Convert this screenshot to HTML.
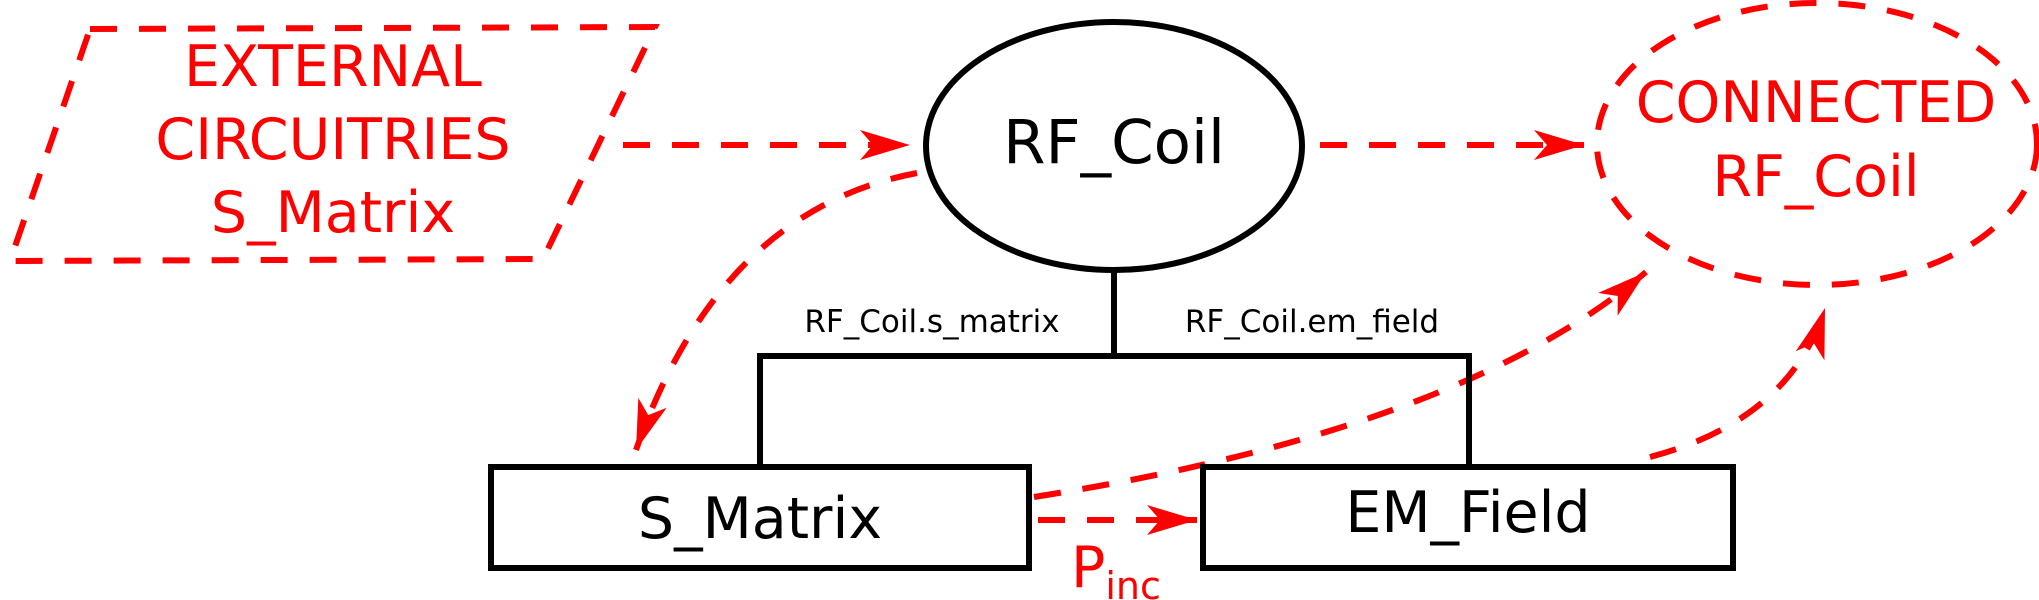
<!DOCTYPE html>
<html><head><style>html,body{margin:0;padding:0;background:#fff;}svg{display:block}</style></head>
<body>
<svg width="2039" height="600" viewBox="0 0 2039 600" xmlns="http://www.w3.org/2000/svg" font-family="'DejaVu Sans','Liberation Sans',sans-serif">
<defs>
<marker id="a" markerUnits="userSpaceOnUse" markerWidth="60" markerHeight="40" refX="50" refY="15" orient="auto">
<path d="M0,0 L50,15 L0,30 L13,15 Z" fill="#ff0000"/>
</marker>
</defs>
<g fill="none" stroke="#ff0000" stroke-width="6" stroke-dasharray="27,22">
<path d="M90,29 L655,27 L543,259 L10,261 Z"/>
<ellipse cx="1817" cy="144" rx="220" ry="141"/>
<path d="M623,145 L910,145" marker-end="url(#a)"/>
<path d="M1320,145 L1584,145" marker-end="url(#a)"/>
<path d="M917,173 Q720,210 636,450" marker-end="url(#a)"/>
<path d="M1034,497 Q1460,430 1646,272" marker-end="url(#a)"/>
<path d="M1650,457 Q1790,420 1825,308" marker-end="url(#a)"/>
<path d="M1038,520 L1197,520" marker-end="url(#a)"/>
</g>
<g fill="none" stroke="#000" stroke-width="6">
<ellipse cx="1114" cy="146" rx="188" ry="124"/>
<path d="M1114,270 L1114,356 M760,356 L1470,356 M760,353 L760,467 M1469,353 L1469,467"/>
<rect x="491" y="467" width="538" height="101"/>
<rect x="1203" y="467" width="530" height="101"/>
</g>
<g fill="#ff0000" font-size="57" text-anchor="middle">
<text x="333" y="86">EXTERNAL</text>
<text x="333" y="159">CIRCUITRIES</text>
<text x="333" y="232">S_Matrix</text>
<text x="1816" y="122">CONNECTED</text>
<text x="1816" y="196">RF_Coil</text>
<text x="1071" y="587" text-anchor="start">P<tspan font-size="38" dy="12">inc</tspan></text>
</g>
<g fill="#000" text-anchor="middle">
<text x="1114" y="163" font-size="61">RF_Coil</text>
<text x="760" y="538" font-size="57">S_Matrix</text>
<text x="1468" y="532" font-size="57">EM_Field</text>
<text x="932" y="332" font-size="31">RF_Coil.s_matrix</text>
<text x="1312" y="332" font-size="31">RF_Coil.em_field</text>
</g>
</svg>
</body></html>
